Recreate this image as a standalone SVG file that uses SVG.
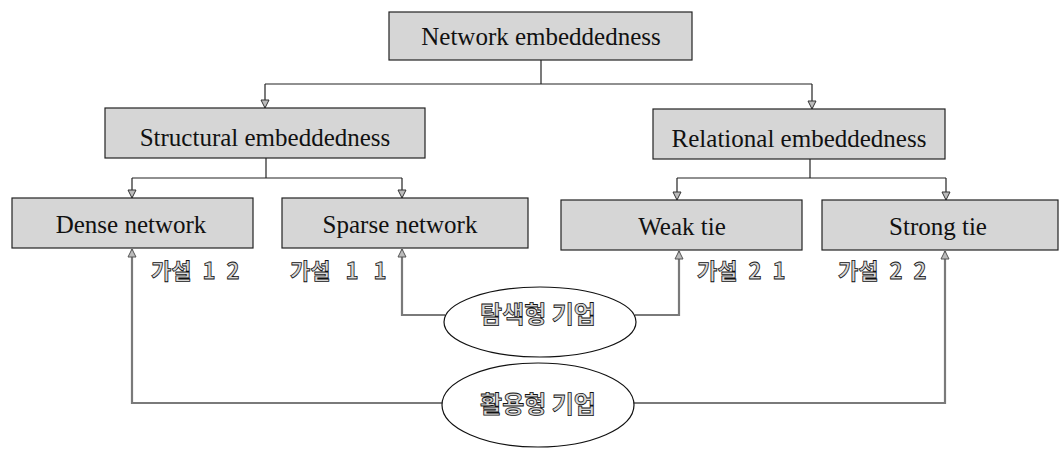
<svg xmlns="http://www.w3.org/2000/svg" width="1062" height="464" viewBox="0 0 1062 464">
<style>
.box{fill:#d6d6d6;stroke:#222;stroke-width:1.2}
.t{font-family:"Liberation Serif","Times New Roman",serif;font-size:25px;fill:#111;text-anchor:middle}
.k{font-family:"Noto Sans CJK KR","Noto Sans",sans-serif;font-weight:bold;fill:#d8d8d8;stroke:#111;stroke-width:0.8}
.lab{font-size:22px;word-spacing:6px}
.ell{fill:#fff;stroke:#111;stroke-width:1.2}
.c{fill:none;stroke:#222;stroke-width:1.2}
.u{fill:none;stroke:#7a7a7a;stroke-width:2.2}
</style>
<defs>
<marker id="ad" markerWidth="10" markerHeight="10" refX="5" refY="9" orient="0" markerUnits="userSpaceOnUse">
<path d="M1,1 L9,1 L5,9 Z" fill="#bbb" stroke="#333" stroke-width="1"/>
</marker>
<marker id="au" markerWidth="10" markerHeight="10" refX="5" refY="1" orient="0" markerUnits="userSpaceOnUse">
<path d="M1,9 L9,9 L5,1 Z" fill="#bbb" stroke="#555" stroke-width="1"/>
</marker>
</defs>
<g id="connectors">
<path class="c" d="M541,60 V84"/>
<path class="c" d="M265,84 H812"/>
<path class="c" d="M265,84 V108" marker-end="url(#ad)"/>
<path class="c" d="M812,84 V109" marker-end="url(#ad)"/>
<path class="c" d="M266,158 V178"/>
<path class="c" d="M132,178 H402"/>
<path class="c" d="M132,178 V198" marker-end="url(#ad)"/>
<path class="c" d="M402,178 V198" marker-end="url(#ad)"/>
<path class="c" d="M810,159 V178"/>
<path class="c" d="M677,178 H946"/>
<path class="c" d="M677,178 V200" marker-end="url(#ad)"/>
<path class="c" d="M946,178 V200" marker-end="url(#ad)"/>
<path class="u" d="M445,315 H402 V249" marker-end="url(#au)"/>
<path class="u" d="M635,315 H679 V251" marker-end="url(#au)"/>
<path class="u" d="M443,403 H132 V249" marker-end="url(#au)"/>
<path class="u" d="M633,403 H945 V251" marker-end="url(#au)"/>
</g>
<g id="n-network"><rect class="box" x="389" y="12" width="303" height="48"/><text class="t" x="541" y="45">Network embeddedness</text></g>
<g id="n-structural"><rect class="box" x="105" y="108" width="320" height="50"/><text class="t" x="265" y="146">Structural embeddedness</text></g>
<g id="n-relational"><rect class="box" x="653" y="109" width="292" height="50"/><text class="t" x="799" y="147">Relational embeddedness</text></g>
<g id="n-dense"><rect class="box" x="12" y="198" width="241" height="50"/><text class="t" x="131" y="233">Dense network</text></g>
<g id="n-sparse"><rect class="box" x="282" y="198" width="246" height="50"/><text class="t" x="400" y="233">Sparse network</text></g>
<g id="n-weak"><rect class="box" x="561" y="200" width="241" height="50"/><text class="t" x="682" y="235">Weak tie</text></g>
<g id="n-strong"><rect class="box" x="822" y="200" width="236" height="50"/><text class="t" x="938" y="235">Strong tie</text></g>
<g id="labels">
<text class="k lab" x="151" y="279">가설 1 2</text>
<text class="k lab" x="290" y="279" style="word-spacing:10px">가설 1 1</text>
<text class="k lab" x="697" y="279">가설 2 1</text>
<text class="k lab" x="838" y="279">가설 2 2</text>
</g>
<g id="n-explore"><ellipse class="ell" cx="540" cy="322" rx="96" ry="35"/><text class="k" x="538" y="323" font-size="24" text-anchor="middle">탐색형 기업</text></g>
<g id="n-exploit"><ellipse class="ell" cx="538" cy="405" rx="96" ry="42"/><text class="k" x="538" y="413" font-size="24" text-anchor="middle">활용형 기업</text></g>
</svg>
